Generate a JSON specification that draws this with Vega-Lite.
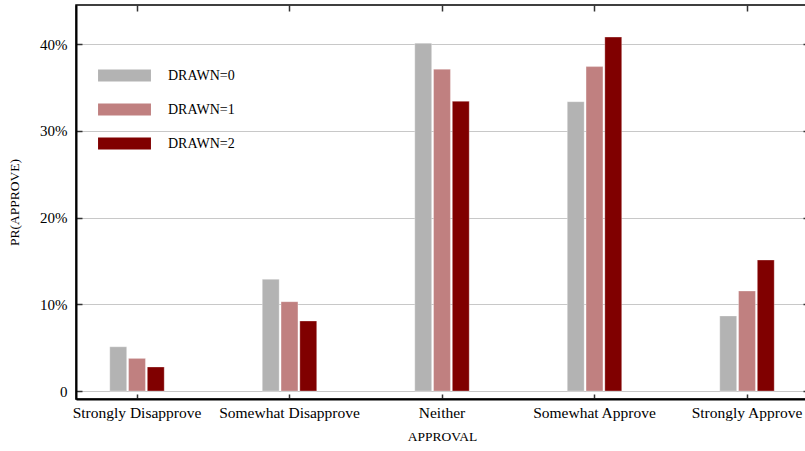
{
  "$schema": "https://vega.github.io/schema/vega-lite/v6.json",
  "width": 732,
  "height": 394,
  "autosize": {"type": "none"},
  "padding": {"left": 76, "top": 5, "right": 0, "bottom": 52},
  "background": "white",
  "config": {
    "font": "Liberation Serif",
    "view": {"stroke": "black", "strokeWidth": 1.5},
    "axis": {
      "labelFont": "Liberation Serif",
      "titleFont": "Liberation Serif",
      "labelColor": "black",
      "titleColor": "black",
      "labelFontSize": 15,
      "titleFontSize": 13.5,
      "titleFontWeight": "normal",
      "domainColor": "black",
      "domainWidth": 2,
      "tickColor": "#333333",
      "tickWidth": 1.5
    }
  },
  "data": {
    "values": [
      {"approval": "Strongly Disapprove", "drawn": "Drawn=0", "pr": 5.1},
      {"approval": "Strongly Disapprove", "drawn": "Drawn=1", "pr": 3.76},
      {"approval": "Strongly Disapprove", "drawn": "Drawn=2", "pr": 2.77},
      {"approval": "Somewhat Disapprove", "drawn": "Drawn=0", "pr": 12.88},
      {"approval": "Somewhat Disapprove", "drawn": "Drawn=1", "pr": 10.3},
      {"approval": "Somewhat Disapprove", "drawn": "Drawn=2", "pr": 8.07},
      {"approval": "Neither", "drawn": "Drawn=0", "pr": 40.1},
      {"approval": "Neither", "drawn": "Drawn=1", "pr": 37.1},
      {"approval": "Neither", "drawn": "Drawn=2", "pr": 33.4},
      {"approval": "Somewhat Approve", "drawn": "Drawn=0", "pr": 33.35},
      {"approval": "Somewhat Approve", "drawn": "Drawn=1", "pr": 37.4},
      {"approval": "Somewhat Approve", "drawn": "Drawn=2", "pr": 40.8},
      {"approval": "Strongly Approve", "drawn": "Drawn=0", "pr": 8.65},
      {"approval": "Strongly Approve", "drawn": "Drawn=1", "pr": 11.53},
      {"approval": "Strongly Approve", "drawn": "Drawn=2", "pr": 15.1}
    ]
  },
  "layer": [
    {
      "mark": {"type": "bar", "stroke": "white", "strokeWidth": 0.5, "strokeOpacity": 0.6},
      "encoding": {
        "x": {
          "field": "approval",
          "type": "nominal",
          "sort": ["Strongly Disapprove", "Somewhat Disapprove", "Neither", "Somewhat Approve", "Strongly Approve"],
          "scale": {"paddingInner": 0.643, "paddingOuter": 0.2215},
          "axis": {
            "orient": "bottom",
            "title": "APPROVAL",
            "labelAngle": 0,
            "labelFontSize": 15.5,
            "tickSize": -5,
            "labelPadding": 11,
            "titlePadding": 9
          }
        },
        "xOffset": {
          "field": "drawn",
          "type": "nominal",
          "scale": {"paddingInner": 0.1, "paddingOuter": 0}
        },
        "y": {
          "field": "pr",
          "type": "quantitative",
          "scale": {"domain": [-0.92, 44.5], "nice": false, "zero": false},
          "axis": {
            "orient": "left",
            "title": "PR(APPROVE)",
            "values": [0, 10, 20, 30, 40],
            "labelExpr": "datum.value == 0 ? '0' : datum.value + '%'",
            "grid": true,
            "gridColor": "#c8c8c8",
            "gridWidth": 1,
            "tickSize": -6,
            "labelPadding": 15,
            "titlePadding": 18
          }
        },
        "y2": {"datum": 0},
        "color": {
          "field": "drawn",
          "type": "nominal",
          "scale": {"domain": ["Drawn=0", "Drawn=1", "Drawn=2"], "range": ["#b3b3b3", "#c08080", "#800000"]},
          "legend": {
            "title": null,
            "orient": "none",
            "legendX": 22,
            "legendY": 44,
            "symbolType": "M-1,-0.23H1V0.23H-1Z",
            "symbolSize": 2800,
            "symbolStrokeWidth": 0,
            "symbolOpacity": 1,
            "labelFont": "Liberation Serif",
            "labelFontSize": 14,
            "labelColor": "black",
            "labelOffset": 17,
            "labelExpr": "upper(datum.label)",
            "rowPadding": -19
          }
        }
      }
    },
    {
      "mark": {"type": "point", "opacity": 0},
      "encoding": {
        "x": {
          "field": "approval",
          "type": "nominal",
          "sort": ["Strongly Disapprove", "Somewhat Disapprove", "Neither", "Somewhat Approve", "Strongly Approve"],
          "axis": {"orient": "top", "labels": false, "title": null, "domain": false, "tickSize": -6}
        },
        "y": {
          "field": "pr",
          "type": "quantitative",
          "axis": {"orient": "right", "labels": false, "title": null, "domain": false, "values": [0, 10, 20, 30, 40], "tickSize": -5, "grid": false}
        }
      }
    }
  ],
  "resolve": {"axis": {"x": "independent", "y": "independent"}}
}
